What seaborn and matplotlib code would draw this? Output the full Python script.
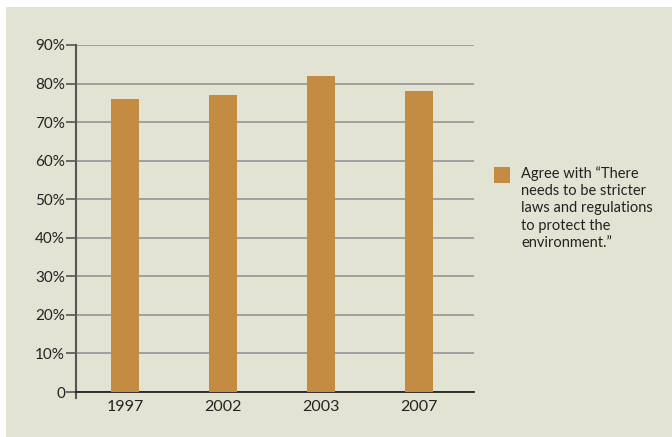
import numpy as np
import pandas as pd
import matplotlib.pyplot as plt
import seaborn as sns
from matplotlib.patches import Rectangle

# ==== データ ====
years = ["1997", "2002", "2003", "2007"]
agree = [76, 77, 82, 78]
label = "Agree with \u201cThere\nneeds to be stricter\nlaws and regulations\nto protect the\nenvironment.\u201d"

bg = "#E3E3D3"
bar_color = "#C48C42"

sns.set_style("white")
plt.rcParams['font.family'] = ['Lato', 'DejaVu Sans']

df = pd.DataFrame({"year": years, "agree": agree})

fig = plt.figure(figsize=(6.72, 4.37), dpi=100, facecolor="white")
fig.patches.append(Rectangle((6 / 672, 0), 1, 1 - 7 / 437, transform=fig.transFigure,
                             facecolor=bg, edgecolor="none", zorder=-10))
ax = fig.add_axes([76 / 672, 1 - 392 / 437, 398 / 672, 347 / 437])
ax.set_facecolor(bg)

sns.barplot(df, x="year", y="agree", ax=ax, color=bar_color, width=0.29,
            saturation=1, linewidth=0, zorder=3)

ax.set_ylim(0, 90)
ax.set_xlim(-0.5, 3.56)
ax.set_yticks(np.arange(0, 91, 10))
ax.set_yticklabels(["0"] + [f"{v}%" for v in range(10, 91, 10)])
ax.yaxis.grid(True, color="#9A9A9A", linewidth=1.3, zorder=0)
ax.set_axisbelow(True)
ax.set_xlabel("")
ax.set_ylabel("")

for s in ["top", "right"]:
    ax.spines[s].set_visible(False)
ax.spines["left"].set_color("#555555")
ax.spines["left"].set_linewidth(1.5)
ax.spines["left"].set_bounds(-1.5, 90)
ax.spines["bottom"].set_color("#222222")
ax.spines["bottom"].set_linewidth(1.3)

ax.tick_params(axis="y", length=7, width=1.2, color="#555555", labelsize=11,
               labelcolor="#222222", pad=1, left=True)
ax.tick_params(axis="x", length=0, labelsize=11.5, labelcolor="#222222", pad=6)

# 凡例
fig.patches.append(Rectangle((494 / 672, 1 - 183 / 437), 16 / 672, 16 / 437,
                             transform=fig.transFigure, facecolor=bar_color,
                             edgecolor="none"))
fig.text(521 / 672, 1 - 166 / 437, label, ha="left", va="top", fontsize=10.5,
         color="#222222", linespacing=1.3)

plt.savefig("out.png", dpi=100, facecolor=fig.get_facecolor())
